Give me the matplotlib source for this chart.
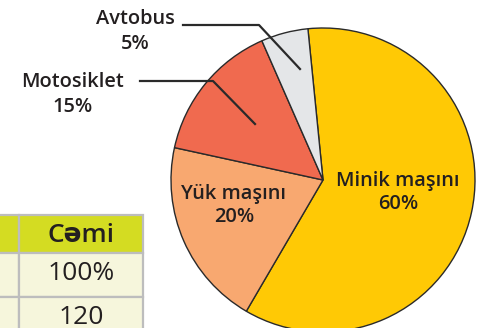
import matplotlib.pyplot as plt
from matplotlib.patches import Rectangle

# nəqliyyat növləri üzrə paylanma
kateqoriyalar = ["Minik maşını", "Yük maşını", "Motosiklet", "Avtobus"]
faizler = [60, 20, 15, 5]
rengler = ["#FFC905", "#F8A870", "#F06A4F", "#E4E6E8"]

# cədvəlin görünən hissəsi
cedvel_basliq = "Cəmi"
cedvel_xanalar = ["100%", "120"]

W, H = 479, 328
fig = plt.figure(figsize=(W / 100, H / 100), dpi=100)
ax = fig.add_axes([0, 0, 1, 1])

sag = ["Open Sans", "DejaVu Sans"]
metn_reng = "#231F20"
qalin = "semibold"

# dairəvi diaqram (koordinatlar piksellə, y yuxarı)
ax.pie(faizler, colors=rengler, center=(323, H - 180), radius=152,
       startangle=95.7, counterclock=False,
       wedgeprops=dict(edgecolor="#2A2A2A", linewidth=1.0))

# daxili yazılar
ax.text(398, H - 192.5, f"{kateqoriyalar[0]}\n{faizler[0]}%", ha="center", va="center",
        fontsize=14.4, fontweight=qalin, family=sag, color=metn_reng, linespacing=1.25)
ax.text(234, H - 205.5, f"{kateqoriyalar[1]}\n{faizler[1]}%", ha="center", va="center",
        fontsize=14.4, fontweight=qalin, family=sag, color=metn_reng, linespacing=1.25)

# xarici yazılar və xətlər
ax.text(135, H - 31.5, f"{kateqoriyalar[3]}\n{faizler[3]}%", ha="center", va="center",
        fontsize=14.4, fontweight=qalin, family=sag, color=metn_reng, linespacing=1.3)
ax.plot([183, 259, 300], [H - 25, H - 25, H - 69], color="#2A2A2A", lw=1.6)

ax.text(73, H - 94.5, f"{kateqoriyalar[2]}\n{faizler[2]}%", ha="center", va="center",
        fontsize=14.4, fontweight=qalin, family=sag, color=metn_reng, linespacing=1.3)
ax.plot([140, 213, 255], [H - 81, H - 81, H - 124], color="#2A2A2A", lw=1.6)

# cədvəl
setir_y = [(215, 253), (253, 297), (297, 345)]
sutun_x = [(-60, 19), (19, 143)]
for i, (y0, y1) in enumerate(setir_y):
    fon = "#D4DC22" if i == 0 else "#F6F6DC"
    for x0, x1 in sutun_x:
        ax.add_patch(Rectangle((x0, H - y1), x1 - x0, y1 - y0, facecolor=fon,
                               edgecolor="#BDBDBD", linewidth=1.6, zorder=3))

ax.text(81, H - 235, cedvel_basliq, ha="center", va="center", fontsize=19,
        fontweight=qalin, family=sag, color=metn_reng, zorder=4)
for metn, (y0, y1) in zip(cedvel_xanalar, setir_y[1:]):
    ax.text(81, H - (y0 + 20), metn, ha="center", va="center", fontsize=19,
            family=sag, color=metn_reng, zorder=4)

ax.set_xlim(0, W)
ax.set_ylim(0, H)
ax.set_aspect("auto")
ax.axis("off")

fig.savefig("out.png", dpi=100)
